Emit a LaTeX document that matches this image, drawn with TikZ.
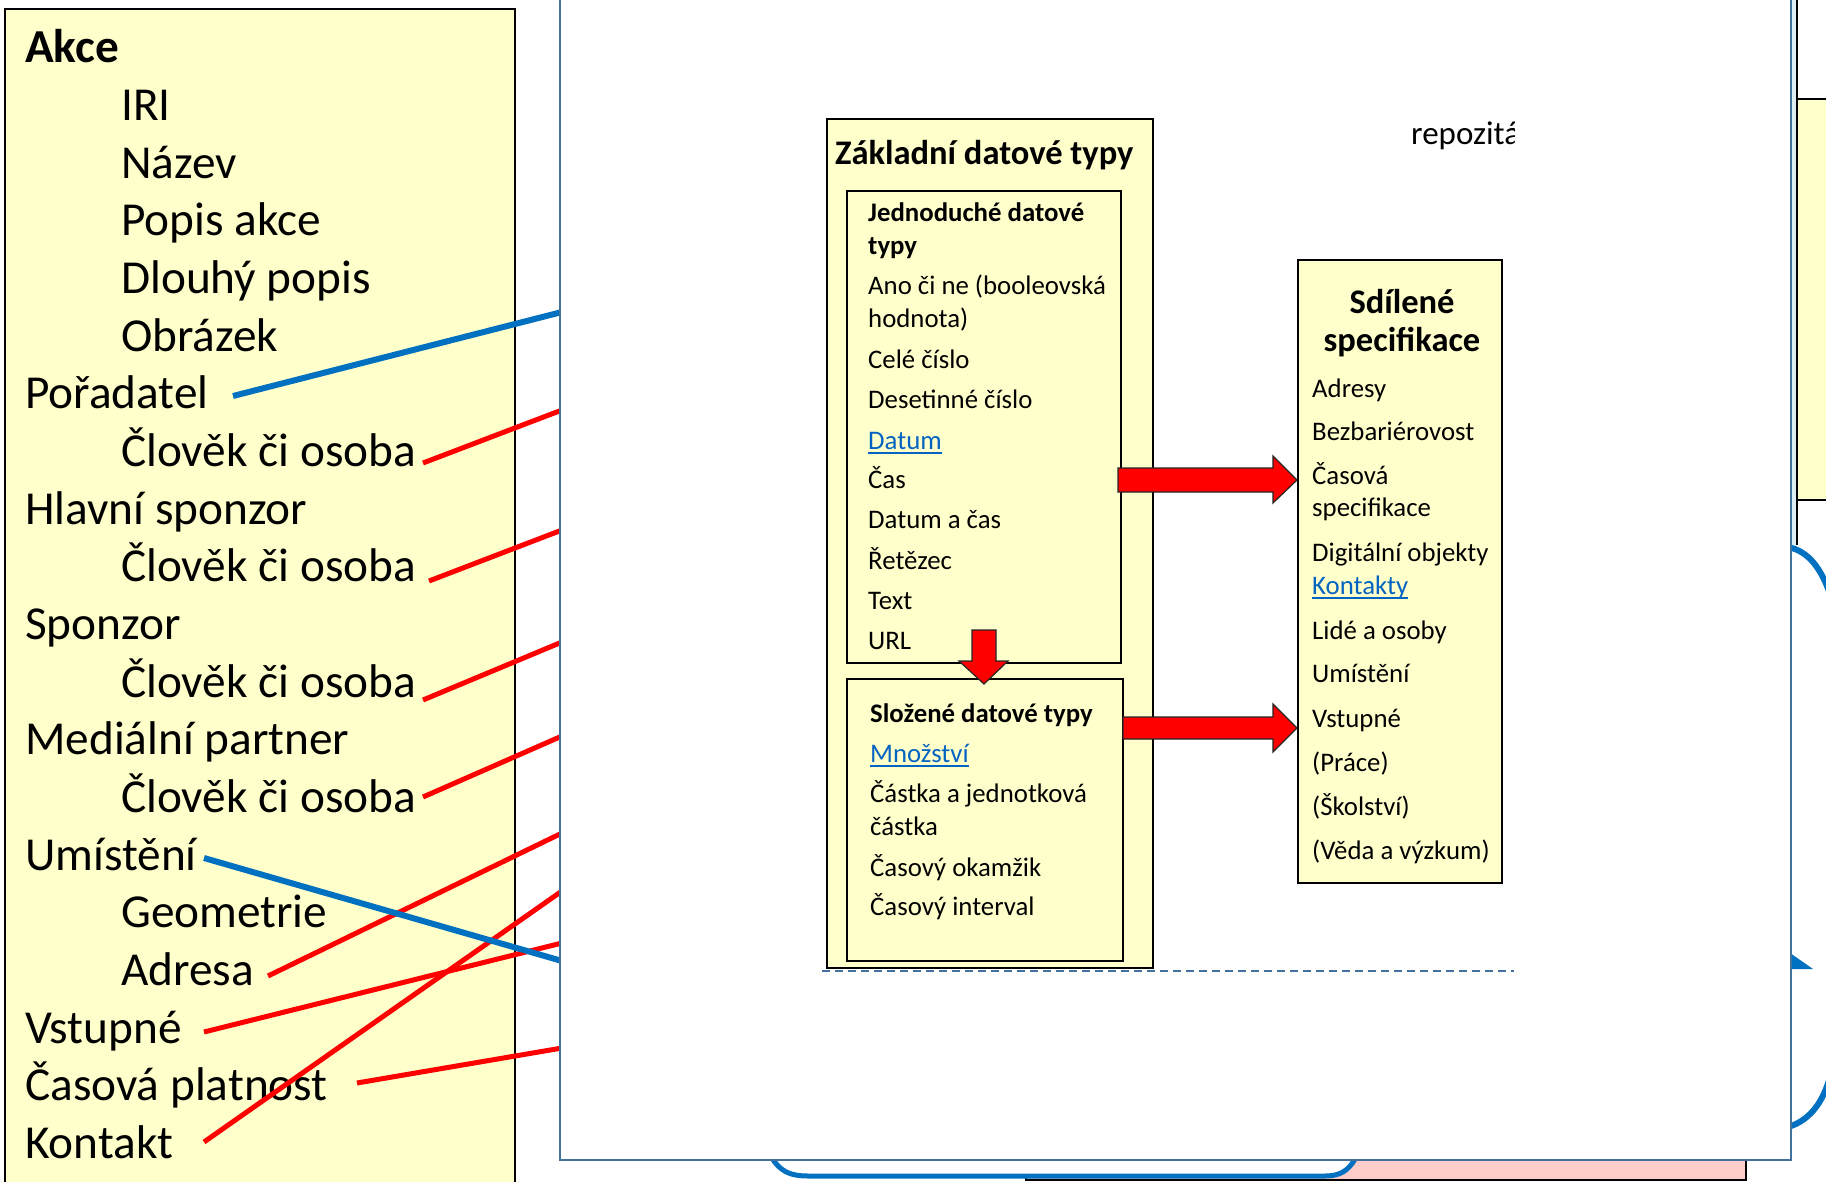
\documentclass[tikz,border=0pt]{standalone}
\usepackage{fontspec}
\setmainfont{Carlito}
\usetikzlibrary{calc}
\definecolor{boxyellow}{HTML}{FFFFCC}
\definecolor{lnkblue}{HTML}{0563C1}
\definecolor{lineblue}{HTML}{0070C0}
\definecolor{panelblue}{RGB}{65,113,156}
\definecolor{pinkfill}{HTML}{FFCCCC}
\definecolor{palecyan}{HTML}{DDEFF2}
\tikzset{
  big/.style={anchor=base west, inner sep=0pt, font=\fontsize{47.3}{57.7}\selectfont},
  bigb/.style={big, font=\fontsize{47.3}{57.7}\selectfont\bfseries},
  sm/.style={anchor=base west, inner sep=0pt, font=\fontsize{26.8}{32}\selectfont},
  smb/.style={sm, font=\fontsize{26.8}{32}\selectfont\bfseries},
  lnk/.style={sm, text=lnkblue},
  ttl/.style={anchor=base west, inner sep=0pt, font=\fontsize{34.5}{40}\selectfont\bfseries},
  ybox/.style={fill=boxyellow, draw=black, line width=2.2pt},
  redline/.style={draw=red, line width=5pt},
  blueline/.style={draw=lineblue, line width=6pt},
  barrow/.style={fill=red, draw=black!85, line width=1.2pt, line join=miter},
  uline/.style={draw=lnkblue, line width=1.8pt},
}
\begin{document}
\begin{tikzpicture}[x=1pt,y=-1pt]
\useasboundingbox (0,0) rectangle (1826,1182);
\clip (0,0) rectangle (1826,1182);
\fill[white] (0,0) rectangle (1826,1182);

% ---- things behind the panel, right side
\fill[palecyan] (1790,-5) rectangle (1797,550);
\draw[black, line width=1.5pt] (1797,-5) -- (1797,545);
\draw[ybox, line width=1.8pt] (1797,99) rectangle (1840,500);
\draw[lineblue, line width=6pt] (1788,547) .. controls (1808,551) and (1822,568) .. (1832,600);
\draw[lineblue, line width=6pt] (1832,1068) .. controls (1826,1098) and (1812,1120) .. (1788,1127);
\fill[lineblue] (1780,946) -- (1813,969) -- (1780,969) -- cycle;

% ---- bottom shapes behind the panel
\filldraw[fill=pinkfill, draw=black, line width=2pt] (1026,1130) rectangle (1746,1180);
\filldraw[fill=white, draw=lineblue, line width=5pt] (760,1130) .. controls (772,1168) and (784,1176) .. (808,1176) -- (1325,1176) .. controls (1346,1176) and (1356,1166) .. (1366,1130) -- cycle;

% ---- left box
\draw[ybox] (5,9) rectangle (515,1200);
\node[bigb] (akce) at (25,63) {Akce};
\node[big] (iri) at (121,120.6) {IRI};
\node[big] (nazev) at (121,178.3) {Název};
\node[big] (popis) at (121,236) {Popis akce};
\node[big] (dlouhy) at (121,293.6) {Dlouhý popis};
\node[big] (obrazek) at (121,351.2) {Obrázek};
\node[big] (poradatel) at (25,408.9) {Pořadatel};
\node[big] (clovekA) at (121,466.5) {Člověk či osoba};
\node[big] (hlavni) at (25,524.2) {Hlavní sponzor};
\node[big] (clovekB) at (121,581.8) {Člověk či osoba};
\node[big] (sponzor) at (25,639.5) {Sponzor};
\node[big] (clovekC) at (121,697.1) {Člověk či osoba};
\node[big] (medialni) at (25,754.8) {Mediální partner};
\node[big] (clovekD) at (121,812.4) {Člověk či osoba};
\node[big] (umisteni) at (25,870.1) {Umístění};
\node[big] (geometrie) at (121,927.7) {Geometrie};
\node[big] (adresa) at (121,985.4) {Adresa};
\node[big] (vstupne) at (25,1043) {Vstupné};
\node[big] (casova) at (25,1100.7) {Časová platnost};
\node[big] (kontakt) at (25,1158.3) {Kontakt};

% ---- connector start / end points
\coordinate (sP) at (233,396);  \coordinate (eP) at (562,312);
\coordinate (sA) at (423,463);  \coordinate (eA) at (562,410);
\coordinate (sB) at (429,581);  \coordinate (eB) at (562,530);
\coordinate (sC) at (423,700);  \coordinate (eC) at (562,642);
\coordinate (sD) at (423,797);  \coordinate (eD) at (562,736);
\coordinate (sU) at (204,858);  \coordinate (eU) at (562,961);
\coordinate (sAd) at (268,976); \coordinate (eAd) at (562,833);
\coordinate (sV) at (204,1032); \coordinate (eV) at (562,943);
\coordinate (sT) at (357,1083); \coordinate (eT) at (562,1048);
\coordinate (sK) at (204,1142); \coordinate (eK) at (562,891);

\draw[blueline] (sP) -- (eP);
\draw[redline] (sA) -- (eA);
\draw[redline] (sB) -- (eB);
\draw[redline] (sC) -- (eC);
\draw[redline] (sD) -- (eD);
\draw[redline] (sAd) -- (eAd);
\draw[redline] (sV) -- (eV);
\draw[redline] (sT) -- (eT);
\draw[redline] (sK) -- (eK);
\draw[blueline] (sU) -- (eU);

% ---- the white panel
\filldraw[fill=white, draw=panelblue, line width=2.5pt] (560,-20) rectangle (1791,1160);

% dashed line
\draw[panelblue, line width=1.3pt, dash pattern=on 8pt off 5pt] (822,971) -- (1514,971);

% repozitar (clipped)
\begin{scope}
\clip (1380,100) rectangle (1514,170);
\node[anchor=base west, inner sep=0pt, font=\fontsize{33}{38}\selectfont] (repo) at (1411,145) {repozitář};
\end{scope}

% outer box
\draw[ybox] (827,119) rectangle (1153,968);
\node[ttl] (zdt) at (835,165) {Základní datové typy};

% box 1
\draw[ybox] (847,191) rectangle (1121,663);
\node[smb] (j1) at (868,222) {Jednoduché datové};
\node[smb] (j2) at (868,255) {typy};
\node[sm] (j3) at (868,295) {Ano či ne (booleovská};
\node[sm] (j4) at (868,327) {hodnota)};
\node[sm] (j5) at (868,368) {Celé číslo};
\node[sm] (j6) at (868,408) {Desetinné číslo};
\node[lnk] (j7) at (868,449) {Datum};
\draw[uline] ([yshift=-4pt]j7.base west) -- ([yshift=-4pt]j7.base east);
\node[sm] (j8) at (868,488) {Čas};
\node[sm] (j9) at (868,528) {Datum a čas};
\node[sm] (j10) at (868,569) {Řetězec};
\node[sm] (j11) at (868,609) {Text};
\node[sm] (j12) at (868,649) {URL};

% box 2
\draw[ybox] (847,679) rectangle (1123,961);
\node[smb] (s1) at (870,722) {Složené datové typy};
\node[lnk] (s2) at (870,762) {Množství};
\draw[uline] ([yshift=-4pt]s2.base west) -- ([yshift=-4pt]s2.base east);
\node[sm] (s3) at (870,802) {Částka a jednotková};
\node[sm] (s4) at (870,835) {částka};
\node[sm] (s5) at (870,876) {Časový okamžik};
\node[sm] (s6) at (870,915) {Časový interval};

% shared specs box
\draw[ybox] (1298,260) rectangle (1502,883);
\node[ttl, anchor=base] (sd1) at (1402,313) {Sdílené};
\node[ttl, anchor=base] (sd2) at (1402,352) {specifikace};
\node[sm] (d1) at (1312,397) {Adresy};
\node[sm] (d2) at (1312,440) {Bezbariérovost};
\node[sm] (d3) at (1312,484) {Časová};
\node[sm] (d4) at (1312,516) {specifikace};
\node[sm] (d5) at (1312,561) {Digitální objekty};
\node[lnk] (d6) at (1312,594) {Kontakty};
\draw[uline] ([yshift=-4pt]d6.base west) -- ([yshift=-4pt]d6.base east);
\node[sm] (d7) at (1312,639) {Lidé a osoby};
\node[sm] (d8) at (1312,682) {Umístění};
\node[sm] (d9) at (1312,727) {Vstupné};
\node[sm] (d10) at (1312,771) {(Práce)};
\node[sm] (d11) at (1312,815) {(Školství)};
\node[sm] (d12) at (1312,859) {(Věda a výzkum)};

% block arrows
\draw[barrow] (1118,468) -- (1273,468) -- (1273,456) -- (1297,480) -- (1273,503) -- (1273,492) -- (1118,492) -- cycle;
\draw[barrow] (1123,717) -- (1273,717) -- (1273,704) -- (1297,728) -- (1273,752) -- (1273,739) -- (1123,739) -- cycle;
\draw[barrow] (972,630) -- (996,630) -- (996,661) -- (1008,661) -- (984,684) -- (959,661) -- (972,661) -- cycle;
\end{tikzpicture}
\end{document}
